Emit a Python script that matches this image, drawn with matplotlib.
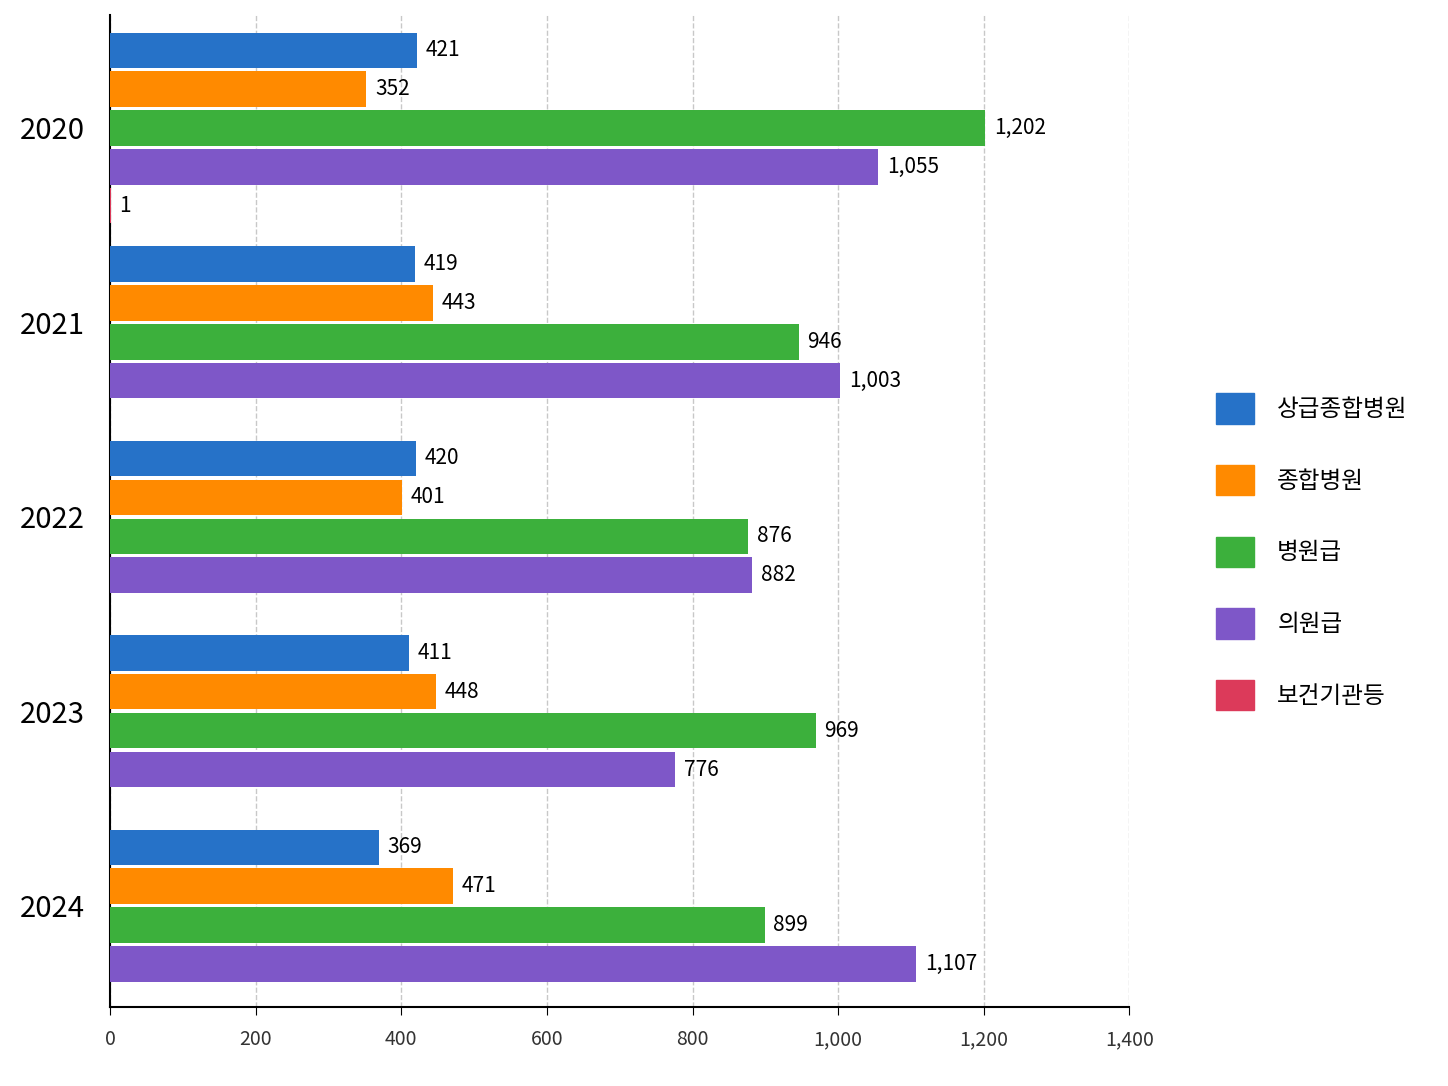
import matplotlib
matplotlib.use("Agg")
import matplotlib.pyplot as plt
from matplotlib.patches import Patch

plt.rcParams['font.family'] = ['Noto Sans CJK KR', 'DejaVu Sans']

years = ["2020", "2021", "2022", "2023", "2024"]
series = ["상급종합병원", "종합병원", "병원급", "의원급", "보건기관등"]
colors = ["#2672c8", "#ff8a00", "#3cb03c", "#7e57c8", "#dc3a5a"]
values = {
    "상급종합병원": [421, 419, 420, 411, 369],
    "종합병원": [352, 443, 401, 448, 471],
    "병원급": [1202, 946, 876, 969, 899],
    "의원급": [1055, 1003, 882, 776, 1107],
    "보건기관등": [1, None, None, None, None],
}

fig = plt.figure(figsize=(14.48, 10.86), dpi=100)
ax = fig.add_axes([0.076, 0.073, 0.704, 0.913])

step = 0.2
h = 0.182
for gi, y in enumerate(years):
    present = [s for s in series if values[s][gi] is not None]
    n = len(present)
    for k, s in enumerate(present):
        v = values[s][gi]
        pos = gi + (k - (n - 1) / 2) * step
        ax.barh(pos, v, height=h, color=colors[series.index(s)], zorder=3)
        ax.text(v + 12, pos, f"{v:,}", va="center", ha="left", fontsize=15, zorder=4)

ax.set_xlim(0, 1400)
ax.set_ylim(4.52, -0.58)
ax.set_xticks(range(0, 1401, 200))
ax.set_xticklabels([f"{t:,}" for t in range(0, 1401, 200)], fontsize=14, color="#333333")
ax.set_yticks(range(len(years)))
ax.set_yticklabels(years, fontsize=21)
ax.tick_params(axis="y", length=0, pad=18)
ax.tick_params(axis="x", length=6, pad=10)
ax.grid(axis="x", linestyle="--", color="#c8c8c8", linewidth=1, zorder=0)
for sp in ["top", "right"]:
    ax.spines[sp].set_visible(False)
ax.spines["left"].set_linewidth(1.5)
ax.spines["bottom"].set_linewidth(1.5)

handles = [Patch(color=c) for c in colors]
fig.legend(handles, series, loc="center left", bbox_to_anchor=(0.825, 0.492),
           frameon=False, fontsize=17, handlelength=1.6, handleheight=1.6,
           labelspacing=1.75, handletextpad=1.0)

fig.savefig("out.png", dpi=100)
